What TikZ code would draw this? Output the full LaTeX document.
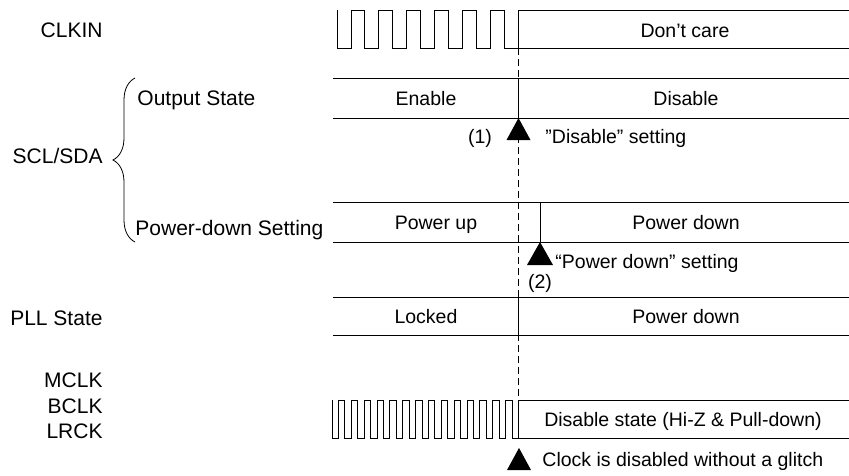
\documentclass[tikz,border=0pt]{standalone}
\usepackage{fontspec}
\setmainfont{Liberation Sans}
\usetikzlibrary{decorations.pathreplacing}

\begin{document}
\begin{tikzpicture}[x=1pt,y=-1pt,line width=0.9pt,line join=miter,
  lbl/.style={font=\fontsize{21}{25}\selectfont,anchor=base east,inner sep=0pt},
  sublbl/.style={font=\fontsize{21}{25}\selectfont,anchor=base west,inner sep=0pt},
  val/.style={font=\fontsize{19.5}{23}\selectfont,anchor=base,inner sep=0pt},
  note/.style={font=\fontsize{19.5}{23}\selectfont,anchor=base west,inner sep=0pt},
  guide/.style={dash pattern=on 6.5pt off 4.5pt,line width=0.9pt},
  evtri/.style={fill=black,draw=none}]
\useasboundingbox (0,0) rectangle (849,475);

% event time
\coordinate (t1) at (518.5,48);
\coordinate (t1end) at (518.5,400);

% dashed event line
\draw[guide] (t1) -- (t1end);

% ---- signal names
\node[lbl] (clkin) at (103,37.5) {CLKIN};
\node[lbl] (scl) at (103,163.3) {SCL/SDA};
\node[sublbl] (outst) at (137,105.7) {Output State};
\node[sublbl] (pdset) at (135,235) {Power-down Setting};
\node[lbl] (pll) at (103,325.7) {PLL State};
\node[lbl] (mclk) at (103,387.3) {MCLK};
\node[lbl] (bclk) at (103,413) {BCLK};
\node[lbl] (lrck) at (103,438.7) {LRCK};

% brace grouping the SCL/SDA rows
\draw[line width=0.8pt,decorate,decoration={brace,amplitude=22pt}] (135,242) -- (135,78);

% ---- CLKIN waveform
\draw (337,10) -- (337,48)
  \foreach \k in {1,...,6} { -- ++(13.96,0) -- ++(0,-38) -- ++(13.96,0) -- ++(0,38) }
  -- ++(13.96,0) -- ++(0,-38) -- (849,10);
\draw (518.5,48) -- (849,48);
\node[val] (dc) at (685,37) {Don’t care};

% ---- Output State row
\draw (333,78) -- (849,78);
\draw (333,118) -- (849,118);
\draw (518.5,78) -- (518.5,118);
\node[val] (en) at (426,105.5) {Enable};
\node[val] (dis) at (686,105.5) {Disable};

\fill[evtri] (518.5,118) -- (506.5,140) -- (530.5,140) -- cycle;
\node[val] (n1) at (480,143) {(1)};
\node[note] (dset) at (545,143) {”Disable” setting};

% ---- Power-down Setting row
\draw (333,202) -- (849,202);
\draw (333,242) -- (849,242);
\draw (540,202) -- (540,242);
\node[val] (pu) at (436,229.5) {Power up};
\node[val] (pd) at (686,229.5) {Power down};

\fill[evtri] (540,242) -- (527,265) -- (553,265) -- cycle;
\node[val] (n2) at (540,288) {(2)};
\node[note] (pdn) at (555,268) {“Power down” setting};

% ---- PLL State row
\draw (333,297) -- (849,297);
\draw (333,335) -- (849,335);
\draw (518.5,297) -- (518.5,335);
\node[val] (lk) at (426,323) {Locked};
\node[val] (pll2) at (686,323) {Power down};

% ---- MCLK / BCLK / LRCK waveform
\draw (332,400) -- (332,438)
  \foreach \k in {1,...,14} { -- ++(6.431,0) -- ++(0,-38) -- ++(6.431,0) -- ++(0,38) }
  -- ++(6.431,0) -- ++(0,-38) -- (849,400);
\draw (518.5,438) -- (849,438);
\node[val] (dst) at (683,426) {Disable state (Hi-Z \& Pull-down)};

\fill[evtri] (519,448) -- (507,470) -- (531,470) -- cycle;
\node[note] (glitch) at (542,466) {Clock is disabled without a glitch};
\end{tikzpicture}
\end{document}
